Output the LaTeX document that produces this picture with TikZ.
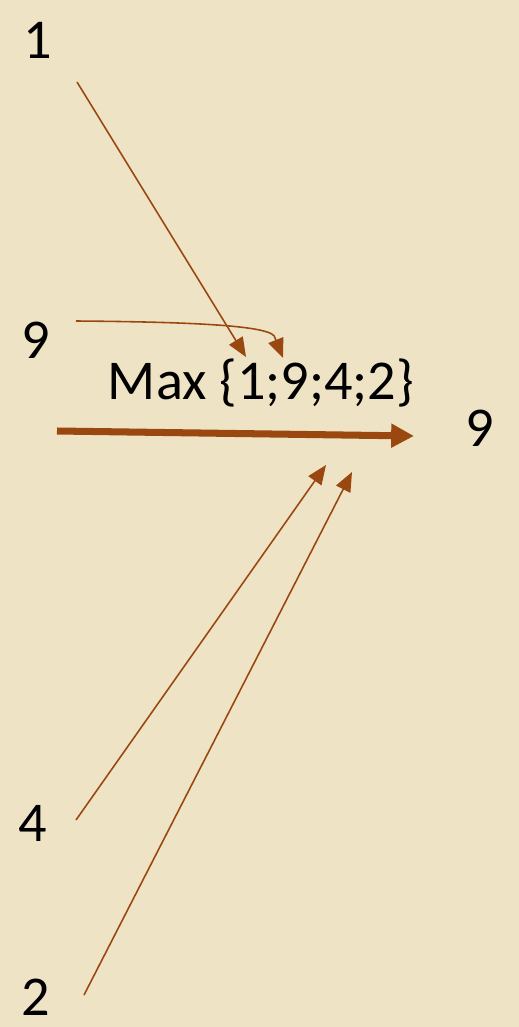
\documentclass[tikz,border=0pt]{standalone}
\usepackage{fontspec}
\setmainfont{Carlito}
\usetikzlibrary{arrows.meta,positioning}
\definecolor{paper}{HTML}{EEE4C5}
\definecolor{rust}{HTML}{9A4710}
\tikzset{>=Triangle,
  every node/.style={font=\fontsize{32}{38}\selectfont,text=black,inner sep=0pt},
  feed/.style={draw=rust,line width=.9pt,-{Triangle[length=11pt,width=9pt]}},
  result/.style={draw=rust,line width=4pt,-{Triangle[length=13pt,width=13pt]}}}
\begin{document}
\begin{tikzpicture}[x=0.02cm,y=-0.02cm]
\fill[paper] (0,0) rectangle (519,1027);
\useasboundingbox (0,0) rectangle (519,1027);
% input values
\node (vone) at (38,40) {1};
\node (vnine) at (36,340) {9};
\node (vfour) at (33,823) {4};
\node (vtwo) at (36,997) {2};
\node (maxop) at (261,383) {Max \{1;9;4;2\}};
\node (vout) at (480,428) {9};
% arrow ends
\coordinate (sone) at (77,82);
\coordinate (snine) at (76,321);
\coordinate (sfour) at (76,820);
\coordinate (stwo) at (84,995);
\coordinate (tone) at (246,357);
\coordinate (tnine) at (283,358);
\coordinate (tfour) at (326,465);
\coordinate (ttwo) at (352,472);
\coordinate (rin) at (57,431);
\coordinate (rout) at (414,436);
\draw[feed] (sone)--(tone);
\draw[feed] (snine) .. controls (200,322) and (275,326) .. (275,338)--(tnine);
\draw[feed] (sfour)--(tfour);
\draw[feed] (stwo)--(ttwo);
\draw[result] (rin)--(rout);
\end{tikzpicture}
\end{document}
